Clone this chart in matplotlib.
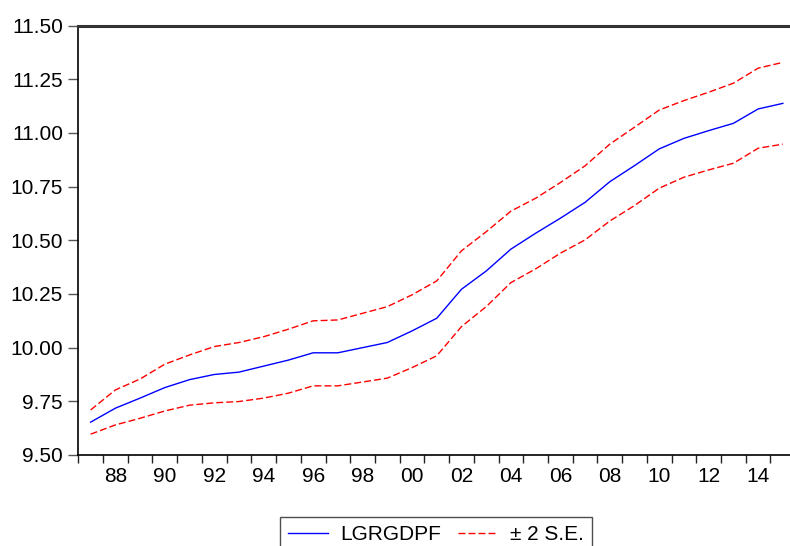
import matplotlib
matplotlib.use('Agg')
import matplotlib.pyplot as plt
import numpy as np

plt.rcParams['font.family'] = ['Liberation Sans', 'DejaVu Sans']

years = list(range(1987, 2016))

# LGRGDPF forecast
lgrgdpf = [9.653, 9.718, 9.765, 9.814, 9.851, 9.875, 9.886, 9.914, 9.942, 9.976,
           9.976, 10.000, 10.024, 10.078, 10.137, 10.272, 10.357, 10.459, 10.533, 10.603,
           10.677, 10.773, 10.848, 10.926, 10.975, 11.011, 11.045, 11.112, 11.138]

# +2 S.E. band
upper = [9.710, 9.803, 9.854, 9.923, 9.966, 10.005, 10.024, 10.051, 10.086, 10.125,
         10.129, 10.160, 10.191, 10.246, 10.311, 10.451, 10.540, 10.636, 10.696, 10.769,
         10.847, 10.948, 11.027, 11.107, 11.151, 11.190, 11.232, 11.302, 11.329]

# -2 S.E. band
lower = [9.597, 9.640, 9.671, 9.705, 9.732, 9.743, 9.749, 9.765, 9.788, 9.822,
         9.822, 9.840, 9.858, 9.907, 9.962, 10.098, 10.191, 10.303, 10.367, 10.440,
         10.502, 10.590, 10.662, 10.743, 10.794, 10.828, 10.859, 10.929, 10.948]

ytick_vals = [9.50, 9.75, 10.00, 10.25, 10.50, 10.75, 11.00, 11.25, 11.50]
label_years = list(range(1988, 2016, 2))

fig = plt.figure(figsize=(7.9, 5.46), dpi=100)
ax = fig.add_axes([0.0991, 0.1667, 0.9075, 0.7863])

x = np.array(years) + 0.5
ax.plot(x, lgrgdpf, color='#0000ff', lw=1.0, label='LGRGDPF')
ax.plot(x, upper, color='#ff0000', lw=1.0, dashes=(5, 2.2), label='\u00b1 2 S.E.')
ax.plot(x, lower, color='#ff0000', lw=1.0, dashes=(5, 2.2))

ax.set_xlim(1987, 2016)
ax.set_ylim(9.5, 11.5)

# year boundaries as tick marks, labels centred in each year
ax.set_xticks(range(1987, 2017))
ax.set_xticklabels([])
ax.set_xticks([yr + 0.5 for yr in label_years], minor=True)
ax.set_xticklabels(['%02d' % (yr % 100) for yr in label_years], minor=True)
ax.tick_params(axis='x', which='major', direction='out', length=6, width=1, color='#222222')
ax.tick_params(axis='x', which='minor', length=0, pad=9, labelsize=15)

ax.set_yticks(ytick_vals)
ax.set_yticklabels(['%.2f' % v for v in ytick_vals])
ax.tick_params(axis='y', direction='out', length=7, width=1, color='#555555', pad=4, labelsize=15)

ax.spines['top'].set_linewidth(2.2)
ax.spines['top'].set_color('#333333')
ax.spines['left'].set_linewidth(1.2)
ax.spines['bottom'].set_linewidth(1.2)
ax.spines['right'].set_visible(False)

leg = fig.legend(loc='upper center', bbox_to_anchor=(436 / 790, 1 - 517 / 546), ncol=2,
                 fontsize=15, frameon=True, fancybox=False, handlelength=1.9,
                 handletextpad=0.6, columnspacing=0.8, borderpad=0.4, borderaxespad=0)
leg.get_frame().set_edgecolor('#222222')
leg.get_frame().set_linewidth(1.0)

plt.savefig('out.png', dpi=100)
